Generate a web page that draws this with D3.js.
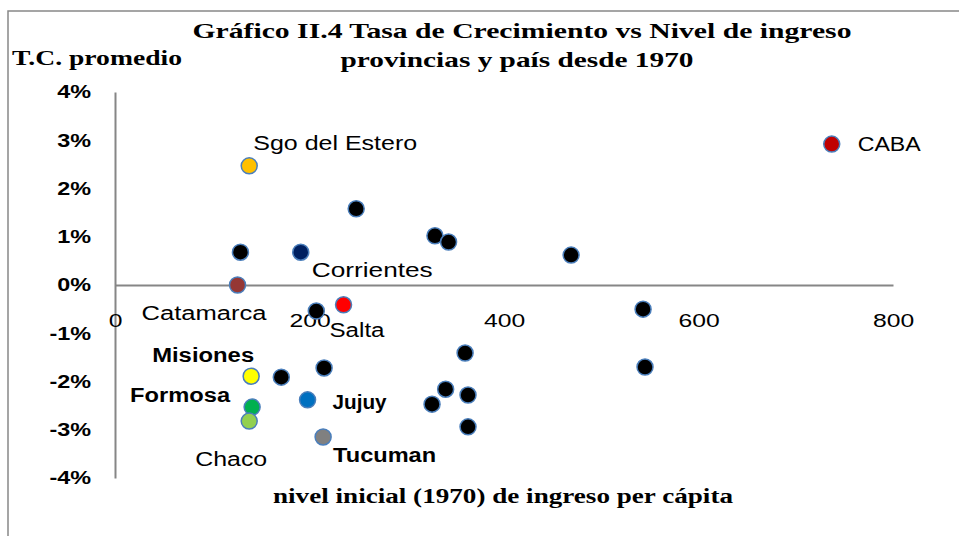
<!DOCTYPE html>
<html>
<head>
<meta charset="utf-8">
<script src="https://cdn.jsdelivr.net/npm/d3@7"></script>
<style>
  body { margin: 0; background: #fff; }
  svg { display: block; }
  .serif { font-family: "Liberation Serif", "DejaVu Serif", serif; font-weight: bold; fill: #000; }
  .lbl { font-family: "Liberation Sans", Arial, sans-serif; fill: #000; }
</style>
</head>
<body>
<script>
// data
var names = ["CABA", "Sgo del Estero", "", "", "Corrientes", "", "", "", "Catamarca", "",
             "Salta", "", "", "Misiones", "", "", "Jujuy", "Formosa", "Chaco", "Tucuman",
             "", "", "", "", ""];
var ingreso = [737, 138, 248, 129, 191, 329, 343, 469, 126, 207,
               235, 543, 545, 140, 171, 215, 198, 141, 138, 214,
               360, 340, 363, 326, 363];
var tasa = [2.92, 2.47, 1.58, 0.68, 0.68, 1.02, 0.89, 0.62, 0.0, -0.54,
            -0.41, -0.50, -1.70, -1.89, -1.91, -1.72, -2.38, -2.53, -2.82, -3.15,
            -1.41, -2.16, -2.28, -2.47, -2.94];
var xTicks = [0, 200, 400, 600, 800];
var yTicks = [-4, -3, -2, -1, 0, 1, 2, 3, 4];

// colours and label placement: [dx, dy, bold, width]
var colors = {
    "CABA": "#C00000", "Sgo del Estero": "#FFC000", "Corrientes": "#002060",
    "Catamarca": "#953735", "Salta": "#FF0000", "Misiones": "#FFFF00",
    "Jujuy": "#0070C0", "Formosa": "#00B050", "Chaco": "#92D050", "Tucuman": "#808080"
};
var labelPos = {
    "CABA": [26, 0, false, 63], "Sgo del Estero": [4, -23, false, 164],
    "Corrientes": [11, 18, false, 121], "Catamarca": [-96, 28, false, 125],
    "Salta": [-14, 25, false, 55], "Misiones": [-99, -21, true, 102],
    "Formosa": [-122, -12, true, 100], "Jujuy": [25, 2, true, 54],
    "Chaco": [-54, 38, false, 72], "Tucuman": [10, 18, true, 103]
};

var W = 959, H = 536;
var svg = d3.select("body").append("svg").attr("width", W).attr("height", H);

// stretch text horizontally, the reference glyphs are wide
function stretch(sel, k) {
    sel.each(function () {
        var w = this.getComputedTextLength();
        d3.select(this).attr("textLength", w * k).attr("lengthAdjust", "spacingAndGlyphs");
    });
}

// outer chart frame (runs off the right/bottom of the picture)
svg.append("rect")
    .attr("x", 8).attr("y", 11).attr("width", 1000).attr("height", 600)
    .attr("fill", "none").attr("stroke", "#888").attr("stroke-width", 1.5);

var x = d3.scaleLinear().domain([0, 800]).range([115, 893]);
var y = d3.scaleLinear().domain([-4, 4]).range([478, 92]);

// y axis
var yAxis = svg.append("g")
    .attr("transform", "translate(" + x(0) + ",0)")
    .call(d3.axisLeft(y).tickValues(yTicks).tickSize(0).tickPadding(24)
        .tickFormat(function (d) { return d + "%"; }));
yAxis.select(".domain").attr("stroke", "#868686").attr("stroke-width", 2);
yAxis.selectAll("text")
    .attr("font-family", "Liberation Sans, Arial, sans-serif")
    .attr("font-weight", "bold").attr("font-size", 18).attr("fill", "#000")
    .call(stretch, 1.3);

// x axis through 0%
var xAxis = svg.append("g")
    .attr("transform", "translate(0," + y(0) + ")")
    .call(d3.axisBottom(x).tickValues(xTicks).tickSize(0).tickPadding(29));
xAxis.select(".domain").attr("stroke", "#868686").attr("stroke-width", 2);
xAxis.selectAll("text")
    .attr("font-family", "Liberation Sans, Arial, sans-serif")
    .attr("font-size", 19).attr("fill", "#000")
    .call(stretch, 1.3);

// points
var pts = d3.range(names.length).map(function (i) {
    return { name: names[i], x: ingreso[i], y: tasa[i] };
});

svg.append("g").selectAll("circle")
    .data(pts)
    .enter().append("circle")
    .attr("cx", function (d) { return x(d.x); })
    .attr("cy", function (d) { return y(d.y); })
    .attr("r", 8)
    .attr("fill", function (d) { return colors[d.name] || "#000"; })
    .attr("stroke", "#4A7EBB")
    .attr("stroke-width", 1.5);

// labels
svg.append("g").selectAll("text")
    .data(pts.filter(function (d) { return d.name !== ""; }))
    .enter().append("text")
    .attr("class", "lbl")
    .attr("x", function (d) { return x(d.x) + labelPos[d.name][0]; })
    .attr("y", function (d) { return y(d.y) + labelPos[d.name][1]; })
    .attr("dy", "0.35em")
    .attr("font-size", 20)
    .attr("font-weight", function (d) { return labelPos[d.name][2] ? "bold" : "normal"; })
    .attr("textLength", function (d) { return labelPos[d.name][3]; })
    .attr("lengthAdjust", "spacingAndGlyphs")
    .text(function (d) { return d.name; });

// titles
function serifText(tx, ty, size, len, anchor, str) {
    svg.append("text").attr("class", "serif")
        .attr("x", tx).attr("y", ty).attr("font-size", size)
        .attr("text-anchor", anchor)
        .attr("textLength", len).attr("lengthAdjust", "spacingAndGlyphs")
        .text(str);
}
serifText(522, 38, 22, 659, "middle", "Gráfico II.4 Tasa de Crecimiento vs Nivel de ingreso");
serifText(517, 67, 22, 353, "middle", "provincias y país desde 1970");
serifText(12, 65, 21, 170, "start", "T.C. promedio");
serifText(503, 503, 20, 460, "middle", "nivel inicial (1970) de ingreso per cápita");
</script>
</body>
</html>
